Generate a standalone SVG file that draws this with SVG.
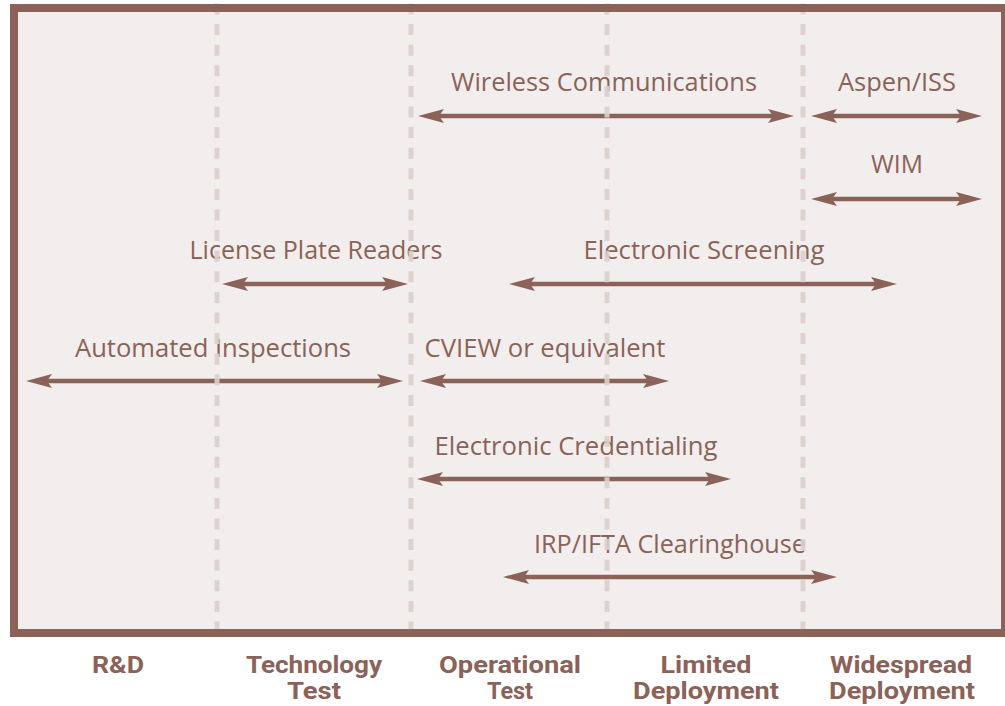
<svg xmlns="http://www.w3.org/2000/svg" width="1005" height="706" viewBox="0 0 1005 706">
  <defs>
    <marker id="ah" viewBox="0 0 26 14" refX="14" refY="7" markerWidth="26" markerHeight="14" markerUnits="userSpaceOnUse" orient="auto-start-reverse">
      <path d="M0,0 L26,7 L0,14 L5,7 Z" fill="#8a6258"/>
    </marker>
  </defs>
  <style>
    .frame { fill: #f2eeed; stroke: #8a6258; stroke-width: 8; }
    .phase { stroke: #dcd0cc; stroke-width: 5; stroke-dasharray: 11 9.6; opacity: 0.9; }
    .arr { stroke: #8a6258; stroke-width: 4.5; fill: none; marker-start: url(#ah); marker-end: url(#ah); }
    .lbl { font-family: "Open Sans", "Noto Sans", sans-serif; font-size: 26px; fill: #8a6258; text-anchor: middle; }
    .ax { font-family: Roboto, "Liberation Sans", sans-serif; font-weight: bold; font-size: 24px; fill: #8a6258; text-anchor: middle; }
  </style>
  <rect class="frame" x="14" y="8" width="991" height="625"/>

  <g id="connectors">
    <line class="arr" x1="430" y1="116" x2="782" y2="116"/>
    <line class="arr" x1="823" y1="116" x2="970" y2="116"/>
    <line class="arr" x1="823" y1="199" x2="970" y2="199"/>
    <line class="arr" x1="234" y1="284" x2="396" y2="284"/>
    <line class="arr" x1="521" y1="284" x2="885" y2="284"/>
    <line class="arr" x1="38" y1="381" x2="391" y2="381"/>
    <line class="arr" x1="432" y1="381" x2="657" y2="381"/>
    <line class="arr" x1="429" y1="479" x2="719" y2="479"/>
    <line class="arr" x1="515" y1="577" x2="825" y2="577"/>
  </g>

  <g id="wireless"><text class="lbl" x="604" y="91" textLength="306" lengthAdjust="spacingAndGlyphs">Wireless Communications</text></g>
  <g id="aspen"><text class="lbl" x="897" y="91" textLength="118" lengthAdjust="spacingAndGlyphs">Aspen/ISS</text></g>
  <g id="wim"><text class="lbl" x="897" y="173" textLength="52" lengthAdjust="spacingAndGlyphs">WIM</text></g>
  <g id="lpr"><text class="lbl" x="316" y="259" textLength="253" lengthAdjust="spacingAndGlyphs">License Plate Readers</text></g>
  <g id="escreen"><text class="lbl" x="704" y="259" textLength="241" lengthAdjust="spacingAndGlyphs">Electronic Screening</text></g>
  <g id="autoinsp"><text class="lbl" x="213" y="357" textLength="276" lengthAdjust="spacingAndGlyphs">Automated Inspections</text></g>
  <g id="cview"><text class="lbl" x="545" y="357" textLength="241" lengthAdjust="spacingAndGlyphs">CVIEW or equivalent</text></g>
  <g id="ecred"><text class="lbl" x="576" y="455" textLength="283" lengthAdjust="spacingAndGlyphs">Electronic Credentialing</text></g>
  <g id="irp"><text class="lbl" x="670" y="553" textLength="272" lengthAdjust="spacingAndGlyphs">IRP/IFTA Clearinghouse</text></g>

  <g id="phase-lines">
    <line class="phase" x1="217" y1="3.5" x2="217" y2="629"/>
    <line class="phase" x1="411" y1="3.5" x2="411" y2="629"/>
    <line class="phase" x1="607" y1="3.5" x2="607" y2="629"/>
    <line class="phase" x1="803" y1="3.5" x2="803" y2="629"/>
  </g>
  <rect x="14" y="8" width="991" height="625" fill="none" stroke="#8a6258" stroke-width="8"/>

  <g id="axis-labels">
    <text class="ax" x="118" y="673" textLength="52" lengthAdjust="spacingAndGlyphs">R&amp;D</text>
    <text class="ax" x="314" y="673" textLength="136" lengthAdjust="spacingAndGlyphs">Technology</text>
    <text class="ax" x="314" y="699" textLength="54" lengthAdjust="spacingAndGlyphs">Test</text>
    <text class="ax" x="510" y="673" textLength="142" lengthAdjust="spacingAndGlyphs">Operational</text>
    <text class="ax" x="510" y="699" textLength="46" lengthAdjust="spacingAndGlyphs">Test</text>
    <text class="ax" x="706" y="673" textLength="91" lengthAdjust="spacingAndGlyphs">Limited</text>
    <text class="ax" x="706" y="699" textLength="146" lengthAdjust="spacingAndGlyphs">Deployment</text>
    <text class="ax" x="901" y="673" textLength="142" lengthAdjust="spacingAndGlyphs">Widespread</text>
    <text class="ax" x="902" y="699" textLength="146" lengthAdjust="spacingAndGlyphs">Deployment</text>
  </g>
</svg>
